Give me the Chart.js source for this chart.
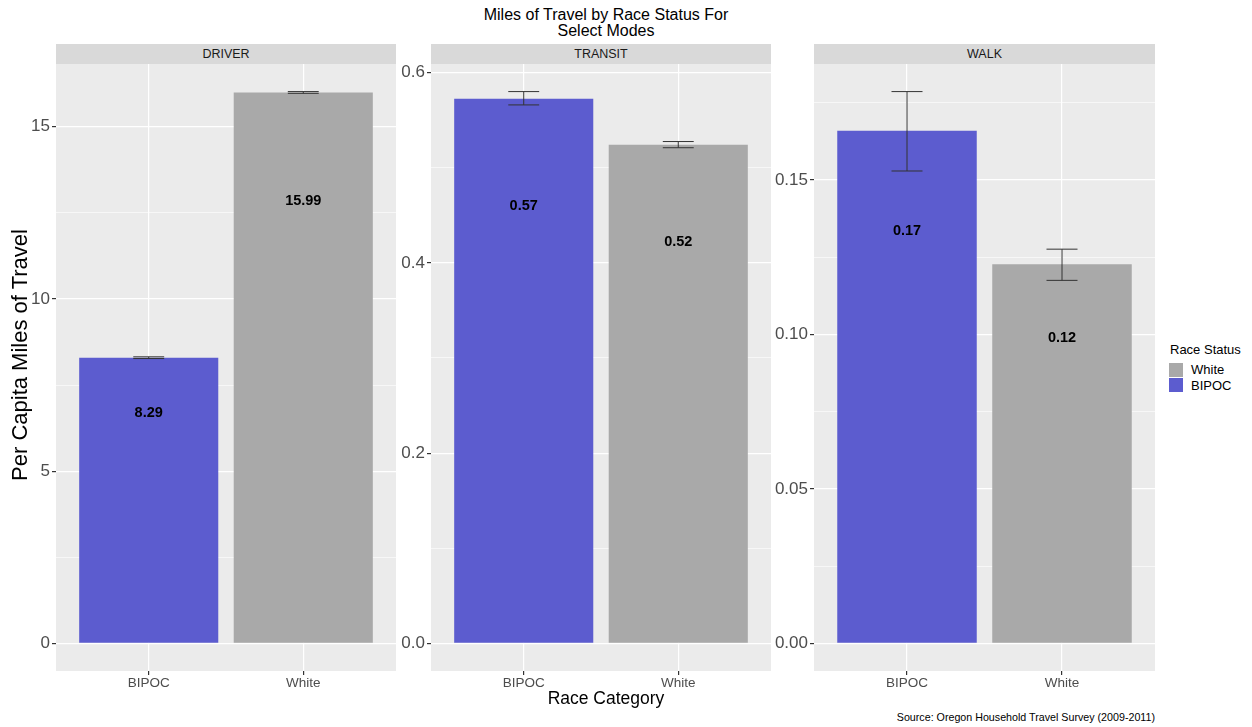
<!DOCTYPE html>
<html>
<head>
<meta charset="utf-8">
<script src="https://cdn.jsdelivr.net/npm/chart.js@4"></script>
<style>
  body { margin: 0; background: #fff; font-family: "Liberation Sans", Arial, sans-serif; }
  #page { position: relative; width: 1252px; height: 727px; overflow: hidden; }
  canvas { position: absolute; }
  .strip { position: absolute; top: 44px; height: 20px; background: #d9d9d9; color: #1a1a1a;
           font-size: 12.5px; line-height: 21px; text-align: center; }
  .txt { position: absolute; white-space: nowrap; }
  .key { position: absolute; width: 14px; height: 14px; }
</style>
</head>
<body>
<div id="page">
  <div class="txt" style="left:406px;width:400px;top:7px;text-align:center;font-size:16px;line-height:16px;color:#000">Miles of Travel by Race Status For<br>Select Modes</div>

  <div class="strip" style="left:56px;width:340px">DRIVER</div>
  <div class="strip" style="left:431px;width:340px">TRANSIT</div>
  <div class="strip" style="left:814px;width:341px">WALK</div>

  <canvas id="driverChart" width="396" height="636" style="left:0;top:64px"></canvas>
  <canvas id="transitChart" width="375" height="636" style="left:396px;top:64px"></canvas>
  <canvas id="walkChart" width="384" height="636" style="left:771px;top:64px"></canvas>

  <div class="txt" style="left:-130px;top:342px;width:300px;text-align:center;font-size:22px;transform:rotate(-90deg);color:#000">Per Capita Miles of Travel</div>
  <div class="txt" style="left:456px;top:688px;width:300px;text-align:center;font-size:17.5px;color:#000">Race Category</div>
  <div class="txt" style="right:97px;top:711px;font-size:10.7px;color:#000">Source: Oregon Household Travel Survey (2009-2011)</div>

  <div class="txt" style="left:1170px;top:342px;font-size:13px;color:#000">Race Status</div>
  <div class="key" style="left:1169px;top:363px;background:#a9a9a9"></div>
  <div class="key" style="left:1169px;top:378px;background:#5c5ccf"></div>
  <div class="txt" style="left:1191px;top:362px;font-size:13px;color:#000">White</div>
  <div class="txt" style="left:1191px;top:378px;font-size:13px;color:#000">BIPOC</div>
</div>

<script>
const categories = ['BIPOC', 'White'];
const barColors = ['#5c5ccf', '#a9a9a9'];

// DRIVER
const driverValues = [8.29, 15.99];
const driverLower = [8.27, 15.97];
const driverUpper = [8.32, 16.02];
const driverTicks = [0, 5, 10, 15];
const driverTickLabels = ['0', '5', '10', '15'];
const driverMinor = [2.5, 7.5, 12.5];

// TRANSIT
const transitValues = [0.5726, 0.5242];
const transitLower = [0.566, 0.521];
const transitUpper = [0.580, 0.5275];
const transitTicks = [0, 0.2, 0.4, 0.6];
const transitTickLabels = ['0.0', '0.2', '0.4', '0.6'];
const transitMinor = [0.1, 0.3, 0.5];

// WALK
const walkValues = [0.1659, 0.1227];
const walkLower = [0.1529, 0.1175];
const walkUpper = [0.1786, 0.1276];
const walkTicks = [0, 0.05, 0.10, 0.15];
const walkTickLabels = ['0.00', '0.05', '0.10', '0.15'];
const walkMinor = [0.025, 0.075, 0.125, 0.175];

const FONT = '"Liberation Sans", Arial, sans-serif';

const makePanel = (canvasId, values, lower, upper, ticks, tickLabels, minor, axisWidth) => {
  const top = Math.max(...upper);
  const allTicks = ticks.concat(minor).sort((a, b) => a - b);

  const facetPlugin = {
    id: 'facet_' + canvasId,
    beforeDraw(chart) {
      const { ctx, chartArea: a } = chart;
      ctx.save();
      ctx.fillStyle = '#ebebeb';
      ctx.fillRect(a.left, a.top, a.right - a.left, a.bottom - a.top);
      ctx.restore();
    },
    afterDatasetsDraw(chart) {
      const { ctx } = chart;
      const xs = chart.scales.x, ys = chart.scales.y;
      ctx.save();
      ctx.strokeStyle = '#333333';
      ctx.lineWidth = 1;
      values.forEach((v, i) => {
        const cx = xs.getPixelForValue(i + 1);
        const half = xs.getPixelForValue(i + 1.1) - cx;
        const yl = ys.getPixelForValue(lower[i]);
        const yu = ys.getPixelForValue(upper[i]);
        ctx.beginPath();
        ctx.moveTo(cx, yl); ctx.lineTo(cx, yu);
        ctx.moveTo(cx - half, yl); ctx.lineTo(cx + half, yl);
        ctx.moveTo(cx - half, yu); ctx.lineTo(cx + half, yu);
        ctx.stroke();
      });
      ctx.fillStyle = '#000';
      ctx.font = 'bold 14.5px ' + FONT;
      ctx.textAlign = 'center';
      ctx.textBaseline = 'middle';
      values.forEach((v, i) => {
        ctx.fillText(v.toFixed(2), xs.getPixelForValue(i + 1), ys.getPixelForValue(v * 0.8) - 2);
      });
      ctx.restore();
    }
  };

  return new Chart(document.getElementById(canvasId), {
    type: 'bar',
    data: {
      datasets: [{
        data: values.map((v, i) => ({ x: i + 1, y: v })),
        backgroundColor: barColors,
        barPercentage: 0.9,
        categoryPercentage: 1.0
      }]
    },
    options: {
      responsive: false,
      animation: false,
      layout: { padding: 0 },
      plugins: { legend: { display: false }, tooltip: { enabled: false }, title: { display: false } },
      scales: {
        x: {
          type: 'linear',
          min: 0.4,
          max: 2.6,
          offset: false,
          border: { display: false },
          grid: { offset: false, color: '#ffffff', lineWidth: 1.2, tickColor: '#333333', tickLength: 4 },
          ticks: {
            color: '#4d4d4d',
            font: { family: FONT, size: 13.5 },
            padding: 0,
            callback: v => categories[v - 1]
          },
          afterBuildTicks: s => { s.ticks = [{ value: 1 }, { value: 2 }]; },
          afterFit: s => { s.height = 29; s.paddingLeft = 0; s.paddingRight = 0; }
        },
        y: {
          type: 'linear',
          min: -top * 0.05,
          max: top * 1.05,
          border: { display: false },
          grid: {
            color: '#ffffff',
            lineWidth: c => ticks.includes(c.tick.value) ? 1.2 : 0.6,
            tickColor: c => ticks.includes(c.tick.value) ? '#333333' : 'rgba(0,0,0,0)',
            tickLength: 4
          },
          ticks: {
            color: '#4d4d4d',
            font: { family: FONT, size: 17 },
            padding: 2,
            autoSkip: false,
            callback: v => {
              const k = ticks.indexOf(v);
              return k >= 0 ? tickLabels[k] : '';
            }
          },
          afterBuildTicks: s => { s.ticks = allTicks.map(v => ({ value: v })); },
          afterFit: s => { s.width = axisWidth; s.paddingTop = 0; s.paddingBottom = 0; }
        }
      }
    },
    plugins: [facetPlugin]
  });
};

makePanel('driverChart', driverValues, driverLower, driverUpper, driverTicks, driverTickLabels, driverMinor, 56);
makePanel('transitChart', transitValues, transitLower, transitUpper, transitTicks, transitTickLabels, transitMinor, 35);
makePanel('walkChart', walkValues, walkLower, walkUpper, walkTicks, walkTickLabels, walkMinor, 43);
</script>
</body>
</html>
